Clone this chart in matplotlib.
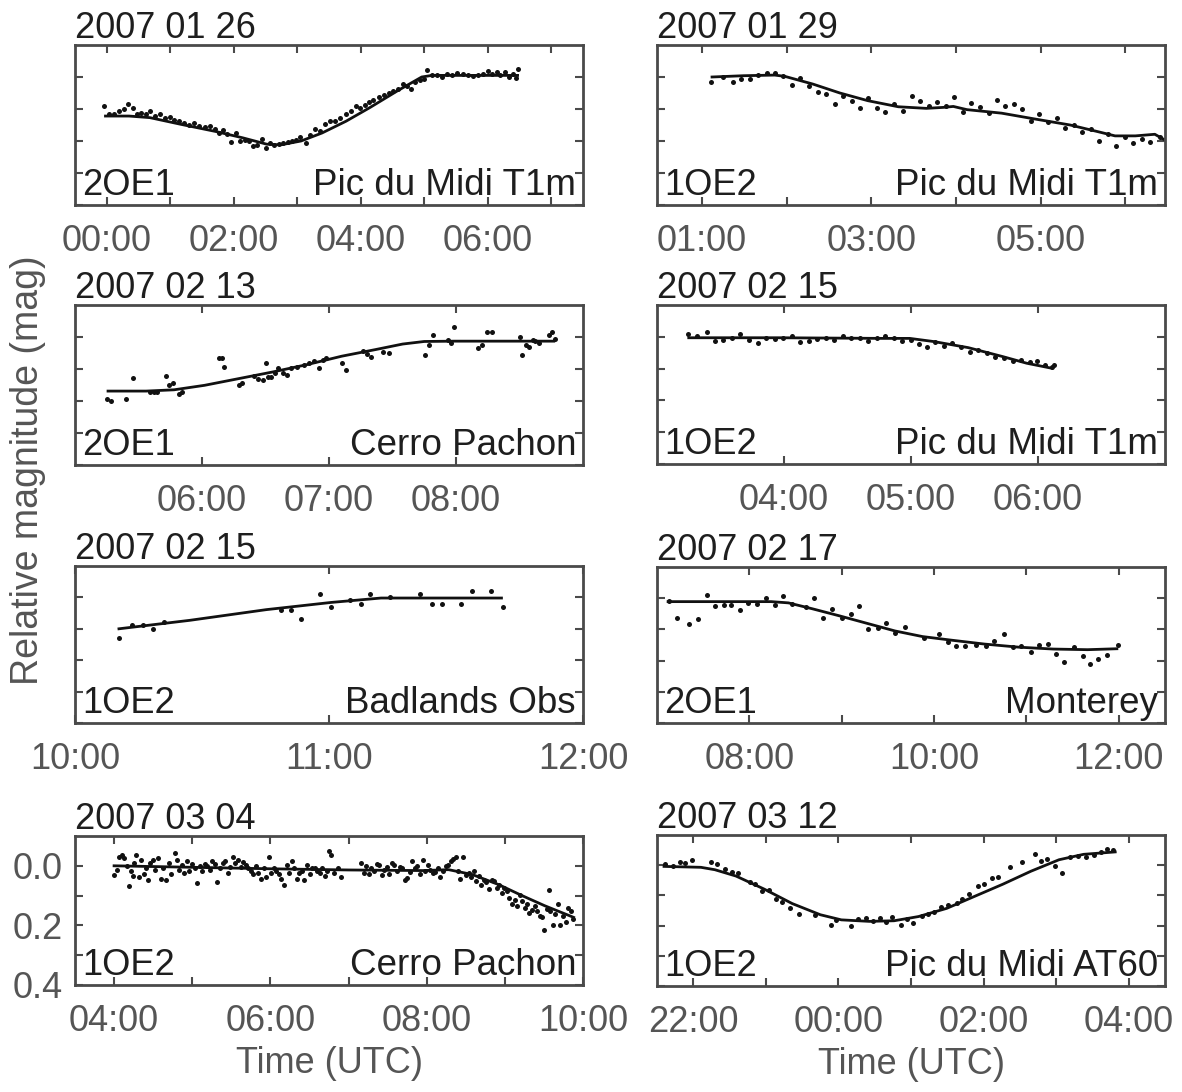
import matplotlib
matplotlib.use('Agg')
import matplotlib.pyplot as plt

plt.rcParams['font.family'] = ['Liberation Sans', 'DejaVu Sans']

# ---------------- data ----------------
titles = ['2007 01 26', '2007 01 29', '2007 02 13', '2007 02 15',
          '2007 02 15', '2007 02 17', '2007 03 04', '2007 03 12']
left_labels = ['2OE1', '1OE2', '2OE1', '1OE2', '1OE2', '2OE1', '1OE2', '1OE2']
right_labels = ['Pic du Midi T1m', 'Pic du Midi T1m', 'Cerro Pachon', 'Pic du Midi T1m',
                'Badlands Obs', 'Monterey', 'Cerro Pachon', 'Pic du Midi AT60']
xlims = [(-0.5, 7.5), (0.47, 6.47), (5.0, 9.0), (3.0, 7.0),
         (10.0, 12.0), (7.0, 12.5), (3.5, 10.0), (21.5, 28.5)]
xtick_pos = [[0, 1, 2, 3, 4, 5, 6, 7], [1, 2, 3, 4, 5, 6], [6, 7, 8], [4, 5, 6],
             [10, 11, 12], [8, 9, 10, 11, 12], [4, 5, 6, 7, 8, 9, 10],
             [22, 23, 24, 25, 26, 27, 28]]
xtick_lab = [['00:00', '', '02:00', '', '04:00', '', '06:00', ''],
             ['01:00', '', '03:00', '', '05:00', ''],
             ['06:00', '07:00', '08:00'],
             ['04:00', '05:00', '06:00'],
             ['10:00', '11:00', '12:00'],
             ['08:00', '', '10:00', '', '12:00'],
             ['04:00', '', '06:00', '', '08:00', '', '10:00'],
             ['22:00', '', '00:00', '', '02:00', '', '04:00']]
ytick_pos = [0.0, 0.1, 0.2, 0.3, 0.4]
ytick_lab = ['0.0', '', '0.2', '', '0.4']

# panel 1 : 2007 01 26
p1_t = [-0.04, 0.03, 0.11, 0.19, 0.27, 0.34, 0.41, 0.47, 0.54, 0.62, 0.68, 0.76, 0.84, 0.92,
        0.99, 1.06, 1.14, 1.22, 1.30, 1.38, 1.46, 1.55, 1.63, 1.70, 1.76, 1.83, 1.90, 1.96,
        2.03, 2.10, 2.17, 2.24, 2.30, 2.37, 2.44, 2.51, 2.57, 2.64, 2.71, 2.78, 2.85, 2.91,
        2.98, 3.05, 3.13, 3.20, 3.28, 3.36, 3.44, 3.52, 3.60, 3.68, 3.77, 3.85, 3.93, 3.99,
        4.06, 4.13, 4.20, 4.28, 4.36, 4.44, 4.51, 4.58, 4.66, 4.73, 4.79, 4.86, 4.93, 5.00,
        5.05, 5.12, 5.20, 5.28, 5.36, 5.44, 5.52, 5.61, 5.69, 5.77, 5.85, 5.93, 6.00, 6.07,
        6.14, 6.20, 6.27, 6.34, 6.39, 6.44, 6.47]
p1_m = [0.091, 0.117, 0.115, 0.106, 0.101, 0.085, 0.096, 0.115, 0.111, 0.117, 0.106, 0.122,
        0.117, 0.127, 0.125, 0.133, 0.138, 0.143, 0.151, 0.145, 0.154, 0.157, 0.154, 0.164,
        0.175, 0.167, 0.178, 0.203, 0.175, 0.201, 0.196, 0.199, 0.217, 0.212, 0.193, 0.222,
        0.207, 0.214, 0.209, 0.207, 0.204, 0.201, 0.196, 0.189, 0.207, 0.180, 0.161, 0.170,
        0.146, 0.138, 0.136, 0.127, 0.117, 0.106, 0.090, 0.096, 0.087, 0.077, 0.072, 0.064,
        0.055, 0.051, 0.043, 0.037, 0.022, 0.027, 0.037, 0.016, 0.009, 0.006, -0.023, -0.005,
        -0.005, 0.000, -0.010, -0.005, -0.012, -0.008, -0.005, -0.002, -0.007, -0.010, -0.019,
        -0.010, -0.015, -0.005, -0.015, 0.000, -0.010, 0.003, -0.026]
p1_ft = [-0.02, 0.35, 0.68, 1.17, 1.71, 2.14, 2.52, 2.74, 3.06, 3.39, 3.77, 4.14, 4.58,
         4.96, 5.12, 5.77, 6.47]
p1_fm = [0.122, 0.122, 0.127, 0.148, 0.170, 0.190, 0.210, 0.212, 0.200, 0.175, 0.138,
         0.096, 0.043, 0.000, -0.005, -0.005, -0.005]

# panel 2 : 2007 01 29
p2_t = [1.108, 1.25, 1.364, 1.465, 1.567, 1.668, 1.766, 1.863, 1.961, 2.062, 2.156, 2.265,
        2.367, 2.468, 2.57, 2.672, 2.773, 2.867, 2.968, 3.07, 3.167, 3.273, 3.374, 3.476,
        3.577, 3.679, 3.776, 3.878, 3.98, 4.081, 4.183, 4.284, 4.386, 4.483, 4.585, 4.686,
        4.784, 4.885, 4.987, 5.088, 5.19, 5.292, 5.393, 5.495, 5.596, 5.69, 5.791, 5.893,
        5.994, 6.096, 6.193, 6.295, 6.409]
p2_m = [0.015, 0.001, 0.015, 0.006, 0.006, -0.007, -0.014, -0.014, -0.002, 0.024, 0.004,
        0.027, 0.048, 0.053, 0.083, 0.059, 0.074, 0.098, 0.067, 0.097, 0.108, 0.085, 0.106,
        0.059, 0.074, 0.090, 0.077, 0.092, 0.061, 0.109, 0.080, 0.095, 0.111, 0.072, 0.092,
        0.084, 0.100, 0.137, 0.116, 0.142, 0.127, 0.160, 0.151, 0.173, 0.163, 0.200, 0.179,
        0.215, 0.189, 0.205, 0.194, 0.203, 0.189]
p2_ft = [1.12, 1.49, 1.86, 1.98, 2.31, 2.63, 2.96, 3.32, 3.65, 3.85, 3.97, 4.13, 4.54,
         4.95, 5.35, 5.68, 5.88, 6.12, 6.35, 6.45]
p2_fm = [0.000, -0.004, -0.006, -0.002, 0.022, 0.050, 0.074, 0.093, 0.098, 0.095, 0.092,
         0.102, 0.113, 0.132, 0.150, 0.171, 0.184, 0.184, 0.179, 0.194]

# panel 3 : 2007 02 13
p3_t = [5.251, 5.286, 5.405, 5.458, 5.593, 5.62, 5.647, 5.715, 5.744, 5.771, 5.817, 5.844,
        6.133, 6.154, 6.176, 6.295, 6.316, 6.411, 6.438, 6.478, 6.5, 6.518, 6.545, 6.572,
        6.599, 6.634, 6.667, 6.702, 6.748, 6.802, 6.842, 6.883, 6.923, 6.95, 6.977, 7.104,
        7.131, 7.268, 7.3, 7.328, 7.422, 7.476, 7.759, 7.786, 7.818, 7.94, 7.961, 7.988,
        8.177, 8.204, 8.244, 8.28, 8.5, 8.522, 8.555, 8.576, 8.603, 8.622, 8.657, 8.73,
        8.757, 8.778]
p3_m = [0.193, 0.201, 0.193, 0.127, 0.172, 0.172, 0.172, 0.123, 0.151, 0.144, 0.179, 0.172,
        0.065, 0.065, 0.094, 0.151, 0.144, 0.123, 0.130, 0.135, 0.081, 0.125, 0.125, 0.114,
        0.097, 0.112, 0.120, 0.097, 0.094, 0.088, 0.081, 0.075, 0.096, 0.073, 0.067, 0.081,
        0.104, 0.043, 0.054, 0.062, 0.046, 0.050, 0.057, 0.026, -0.006, 0.008, 0.020, -0.030,
        0.033, 0.026, -0.016, -0.016, 0.001, 0.057, 0.026, 0.031, 0.010, 0.012, 0.018, -0.006,
        -0.016, 0.005]
p3_ft = [5.26, 5.56, 5.78, 6.02, 6.29, 6.56, 6.83, 7.10, 7.37, 7.58, 7.75, 7.99, 8.39, 8.77]
p3_fm = [0.169, 0.169, 0.165, 0.151, 0.130, 0.109, 0.086, 0.060, 0.039, 0.022, 0.014,
         0.013, 0.013, 0.013]

# panel 4 : 2007 02 15 (Pic du Midi)
p4_t = [3.244, 3.318, 3.391, 3.453, 3.521, 3.589, 3.657, 3.725, 3.792, 3.86, 3.928, 3.996,
        4.064, 4.124, 4.194, 4.259, 4.33, 4.395, 4.466, 4.531, 4.601, 4.661, 4.729, 4.797,
        4.865, 4.932, 5.0, 5.063, 5.128, 5.19, 5.258, 5.326, 5.394, 5.462, 5.529, 5.597,
        5.665, 5.733, 5.801, 5.869, 5.937, 5.996, 6.059, 6.113, 6.127]
p4_m = [-0.008, -0.004, -0.014, 0.013, 0.010, 0.005, -0.008, 0.010, 0.020, 0.003, 0.007,
        0.005, -0.004, 0.015, 0.013, 0.007, 0.003, 0.010, -0.004, 0.003, 0.005, 0.013, 0.005,
        -0.001, 0.003, 0.013, 0.010, 0.023, 0.031, 0.017, 0.028, 0.020, 0.031, 0.049, 0.041,
        0.052, 0.065, 0.067, 0.076, 0.073, 0.078, 0.076, 0.088, 0.094, 0.090]
p4_ft = [3.25, 3.955, 4.77, 4.99, 5.18, 5.45, 5.72, 5.91, 6.11]
p4_fm = [0.003, 0.003, 0.005, 0.005, 0.015, 0.034, 0.062, 0.083, 0.099]

# panel 5 : 2007 02 15 (Badlands)
p5_t = [10.173, 10.226, 10.268, 10.309, 10.349, 10.81, 10.851, 10.889, 10.964, 11.006,
        11.081, 11.126, 11.163, 11.239, 11.358, 11.404, 11.443, 11.518, 11.563, 11.638, 11.684]
p5_m = [0.128, 0.089, 0.089, 0.100, 0.079, 0.041, 0.041, 0.068, -0.012, 0.031, 0.009, 0.020,
        -0.012, -0.001, -0.012, 0.020, 0.020, 0.020, -0.019, -0.019, 0.031]
p5_ft = [10.173, 10.452, 10.753, 11.009, 11.205, 11.679]
p5_fm = [0.100, 0.073, 0.039, 0.016, 0.002, 0.002]

# panel 6 : 2007 02 17
p6_t = [7.127, 7.212, 7.35, 7.447, 7.536, 7.633, 7.722, 7.797, 7.894, 7.983, 8.087, 8.18,
        8.274, 8.367, 8.46, 8.609, 8.702, 8.795, 8.899, 9.0, 9.1, 9.186, 9.287, 9.391, 9.484,
        9.577, 9.689, 9.893, 10.054, 10.154, 10.24, 10.34, 10.452, 10.564, 10.649, 10.761,
        10.851, 10.936, 11.048, 11.141, 11.234, 11.32, 11.409, 11.513, 11.607, 11.692, 11.774,
        11.867, 11.99]
p6_m = [0.008, 0.063, 0.084, 0.067, -0.011, 0.026, 0.021, 0.023, 0.039, 0.015, 0.018, 0.000,
        0.021, -0.006, 0.018, 0.029, 0.000, 0.063, 0.036, 0.065, 0.050, 0.026, 0.099, 0.095,
        0.079, 0.112, 0.091, 0.128, 0.114, 0.141, 0.154, 0.154, 0.149, 0.154, 0.138, 0.115,
        0.157, 0.154, 0.172, 0.151, 0.146, 0.180, 0.206, 0.157, 0.186, 0.210, 0.196, 0.182,
        0.149]
p6_ft = [7.12, 7.566, 8.236, 8.423, 8.683, 8.981, 9.279, 9.577, 9.875, 10.173, 10.545,
         10.918, 11.29, 11.662, 11.979]
p6_fm = [0.011, 0.011, 0.011, 0.015, 0.034, 0.057, 0.081, 0.105, 0.123, 0.134, 0.147,
         0.157, 0.163, 0.165, 0.162]

# panel 7 : 2007 03 04
p7_t = [4.005, 4.040, 4.064, 4.103, 4.123, 4.162, 4.187, 4.211, 4.236, 4.260, 4.285, 4.319,
        4.349, 4.383, 4.408, 4.432, 4.466, 4.496, 4.530, 4.565, 4.594, 4.628, 4.663, 4.702,
        4.731, 4.776, 4.800, 4.830, 4.864, 4.898, 4.928, 4.962, 4.996, 5.031, 5.060, 5.094,
        5.129, 5.158, 5.193, 5.227, 5.256, 5.291, 5.320, 5.354, 5.389, 5.423, 5.453, 5.487,
        5.521, 5.551, 5.585, 5.619, 5.649, 5.683, 5.718, 5.747, 5.781, 5.816, 5.845, 5.879,
        5.914, 5.943, 5.978, 6.012, 6.041, 6.076, 6.110, 6.139, 6.174, 6.208, 6.237, 6.272,
        6.306, 6.336, 6.370, 6.404, 6.434, 6.468, 6.502, 6.532, 6.566, 6.601, 6.630, 6.664,
        6.699, 6.728, 6.753, 6.777, 6.812, 6.861, 6.900, 7.155, 7.194, 7.229, 7.263, 7.292,
        7.327, 7.361, 7.390, 7.425, 7.459, 7.489, 7.523, 7.557, 7.587, 7.621, 7.655, 7.685,
        7.719, 7.754, 7.783, 7.817, 7.852, 7.881, 7.915, 7.950, 7.979, 8.014, 8.048, 8.077,
        8.112, 8.146, 8.175, 8.210, 8.244, 8.274, 8.308, 8.332, 8.372, 8.406, 8.430, 8.470,
        8.504, 8.538, 8.568, 8.602, 8.637, 8.666, 8.700, 8.735, 8.764, 8.798, 8.833, 8.862,
        8.897, 8.931, 8.960, 8.995, 9.029, 9.058, 9.093, 9.127, 9.157, 9.191, 9.225, 9.255,
        9.289, 9.314, 9.353, 9.387, 9.412, 9.451, 9.476, 9.500, 9.534, 9.559, 9.583, 9.618,
        9.647, 9.682, 9.706, 9.745, 9.780, 9.804, 9.844, 9.878]
p7_m = [0.032, 0.013, -0.031, -0.037, -0.026, 0.002, 0.068, 0.018, 0.035, -0.009, -0.035,
        0.038, -0.020, 0.029, 0.009, 0.049, -0.009, -0.020, 0.013, -0.026, 0.043, 0.007,
        0.049, -0.009, 0.029, -0.042, -0.020, 0.013, -0.004, 0.024, -0.015, 0.018, -0.006,
        0.009, 0.057, 0.002, 0.018, -0.006, 0.002, 0.013, -0.015, -0.006, 0.054, 0.007,
        -0.009, -0.015, 0.024, 0.005, -0.031, -0.009, -0.020, 0.005, -0.013, -0.004, 0.007,
        0.018, 0.027, 0.002, 0.024, 0.043, 0.007, 0.038, -0.028, 0.024, 0.009, 0.018, 0.029,
        0.043, 0.063, -0.002, 0.024, -0.015, 0.009, 0.043, 0.024, 0.016, 0.046, -0.004, 0.027,
        0.009, 0.007, 0.018, 0.024, 0.009, 0.035, 0.016, -0.048, -0.037, 0.024, 0.009, 0.038,
        -0.009, 0.024, 0.002, 0.027, 0.009, 0.018, -0.006, -0.002, 0.032, 0.013, 0.005, 0.027,
        -0.009, -0.002, 0.018, 0.005, 0.009, 0.046, 0.040, 0.021, -0.015, 0.007, 0.002, 0.029,
        -0.020, 0.018, -0.002, 0.013, 0.024, 0.021, 0.007, 0.038, 0.018, 0.002, -0.002, -0.015,
        -0.024, -0.028, 0.018, 0.043, -0.028, 0.032, 0.024, 0.038, 0.018, 0.052, 0.035, 0.063,
        0.046, 0.054, 0.079, 0.046, 0.052, 0.074, 0.063, 0.090, 0.074, 0.085, 0.107, 0.129,
        0.116, 0.134, 0.098, 0.118, 0.142, 0.129, 0.157, 0.149, 0.134, 0.151, 0.168, 0.173,
        0.217, 0.146, 0.082, 0.153, 0.198, 0.162, 0.129, 0.198, 0.168, 0.190, 0.140, 0.153,
        0.179]
p7_ft = [4.00, 5.00, 6.00, 7.00, 7.95, 8.28, 8.58, 8.92, 9.22, 9.51, 9.88]
p7_fm = [0.000, 0.005, 0.010, 0.014, 0.016, 0.013, 0.029, 0.063, 0.100, 0.134, 0.173]

# panel 8 : 2007 03 12 (hours after 2007 03 11 00:00)
p8_t = [21.611, 21.718, 21.814, 21.887, 21.984, 22.25, 22.322, 22.434, 22.54, 22.613,
        22.782, 22.855, 22.951, 23.048, 23.145, 23.227, 23.338, 23.45, 23.677, 23.895,
        23.967, 24.175, 24.272, 24.379, 24.475, 24.572, 24.659, 24.741, 24.862, 24.949,
        25.032, 25.153, 25.24, 25.322, 25.419, 25.516, 25.627, 25.709, 25.806, 25.927, 26.0,
        26.12, 26.193, 26.362, 26.531, 26.71, 26.798, 26.87, 26.991, 27.078, 27.185, 27.306,
        27.417, 27.523, 27.62, 27.707, 27.789]
p8_m = [-0.004, 0.001, -0.010, -0.007, -0.018, -0.010, -0.004, 0.011, 0.022, 0.025, 0.057,
        0.063, 0.084, 0.082, 0.111, 0.122, 0.143, 0.161, 0.164, 0.197, 0.181, 0.200, 0.178,
        0.175, 0.186, 0.175, 0.189, 0.172, 0.197, 0.178, 0.193, 0.168, 0.161, 0.154, 0.140,
        0.132, 0.125, 0.111, 0.097, 0.068, 0.063, 0.043, 0.039, 0.007, -0.010, -0.036, -0.014,
        -0.021, 0.004, 0.025, -0.028, -0.031, -0.028, -0.034, -0.044, -0.053, -0.050]
p8_ft = [21.597, 22.105, 22.298, 22.589, 22.976, 23.363, 23.75, 24.04, 24.427, 24.766,
         25.104, 25.491, 25.878, 26.265, 26.652, 27.039, 27.378, 27.814]
p8_fm = [0.004, 0.007, 0.015, 0.036, 0.079, 0.127, 0.164, 0.181, 0.186, 0.184, 0.170,
         0.143, 0.103, 0.063, 0.020, -0.018, -0.036, -0.044]

obs_t = [p1_t, p2_t, p3_t, p4_t, p5_t, p6_t, p7_t, p8_t]
obs_m = [p1_m, p2_m, p3_m, p4_m, p5_m, p6_m, p7_m, p8_m]
fit_t = [p1_ft, p2_ft, p3_ft, p4_ft, p5_ft, p6_ft, p7_ft, p8_ft]
fit_m = [p1_fm, p2_fm, p3_fm, p4_fm, p5_fm, p6_fm, p7_fm, p8_fm]

# ---------------- layout ----------------
W, H = 1182, 1092
fig = plt.figure(figsize=(W / 100, H / 100), dpi=100)
fig.patch.set_facecolor('white')

boxes = [(75, 45, 583, 205), (657, 45, 1165, 205),
         (75, 305, 583, 465), (657, 305, 1165, 464),
         (75, 566, 583, 723), (657, 567, 1165, 723),
         (75, 836, 583, 985), (657, 835, 1165, 986)]

FS = 26
TXT = '#1e1e1e'
GRAY = '#555555'
EDGE = '#4a4a4a'

for i in range(8):
    l, t, r, b = boxes[i]
    ax = fig.add_axes([l / W, 1 - b / H, (r - l) / W, (b - t) / H])
    ax.plot(obs_t[i], obs_m[i], 'o', color='#111111', markersize=3.6, markeredgewidth=0)
    ax.plot(fit_t[i], fit_m[i], '-', color='#111111', linewidth=2.0)
    ax.set_xlim(*xlims[i])
    ax.set_ylim(0.4, -0.1)
    ax.set_xticks(xtick_pos[i])
    ax.set_xticklabels(xtick_lab[i])
    ax.set_yticks(ytick_pos)
    if i == 6:
        ax.set_yticklabels(ytick_lab)
    else:
        ax.set_yticklabels([])
    ax.tick_params(direction='in', top=True, right=True, length=6, width=1.5,
                   color=EDGE, labelsize=FS, labelcolor=GRAY)
    ax.tick_params(axis='x', pad=14)
    ax.tick_params(axis='y', pad=9)
    for s in ax.spines.values():
        s.set_color(EDGE)
        s.set_linewidth(2.0)
    ax.annotate(titles[i], xy=(0, 1), xycoords='axes fraction', xytext=(0, 5),
                textcoords='offset points', ha='left', va='baseline',
                fontsize=FS, color=TXT)
    ax.annotate(left_labels[i], xy=(0, 0), xycoords='axes fraction', xytext=(5, 7),
                textcoords='offset points', ha='left', va='baseline',
                fontsize=FS, color=TXT)
    ax.annotate(right_labels[i], xy=(1, 0), xycoords='axes fraction', xytext=(-5, 7),
                textcoords='offset points', ha='right', va='baseline',
                fontsize=FS + 0.5, color=TXT)
    if i >= 6:
        ax.set_xlabel('Time (UTC)', fontsize=FS, color=GRAY, labelpad=5)

fig.text(28 / W, 1 - 470 / H, 'Relative magnitude (mag)', rotation=90,
         ha='center', va='center', fontsize=FS + 1, color=GRAY)

fig.savefig('out.png', dpi=100, facecolor='white')
